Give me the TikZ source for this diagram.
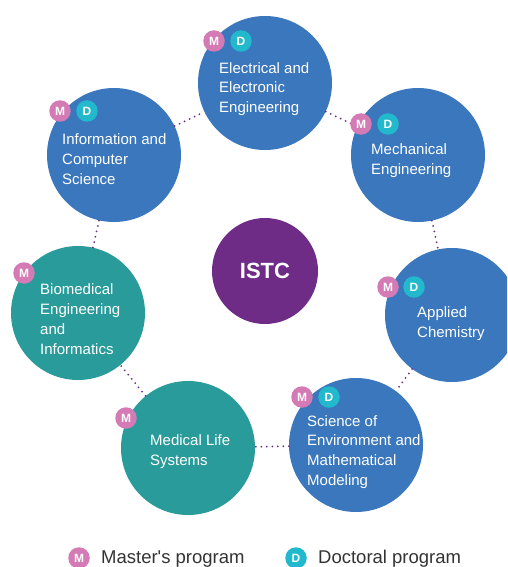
\documentclass[tikz,border=0pt]{standalone}
\usepackage{fontspec}
\setmainfont{Liberation Sans}[Ligatures=TeXOff]
\definecolor{cblue}{HTML}{3A77BC}
\definecolor{cteal}{HTML}{2A9B9B}
\definecolor{cpurple}{HTML}{6F2C87}
\definecolor{cpink}{HTML}{D47AB4}
\definecolor{ccyan}{HTML}{22B9CC}
\definecolor{ctext}{HTML}{333333}
\tikzset{
  big/.style={circle, minimum size=134pt, inner sep=0pt, fill=#1},
  hub/.style={circle, minimum size=106pt, inner sep=0pt, fill=cpurple, text=white, font=\fontsize{22}{26}\selectfont\bfseries},
  lbl/.style={anchor=west, align=left, text=white, inner sep=0pt, font=\fontsize{15}{19.8}\selectfont},
  badge/.style={circle, minimum size=21.5pt, inner sep=0pt, fill=#1, text=white, font=\fontsize{12}{13}\selectfont\bfseries},
  link/.style={draw=cpurple, line width=2pt, dash pattern=on 0pt off 5.5pt, line cap=round},
  legend/.style={anchor=west, inner sep=0pt, text=ctext, font=\fontsize{18.5}{22}\selectfont}
}
\begin{document}
\begin{tikzpicture}[x=1pt,y=-1pt]
\useasboundingbox (0,0) rectangle (507,567);
\clip (0,0) rectangle (507,567);
% circles
\node[big=cblue] (E) at (265,83) {};
\node[big=cblue] (Me) at (418,155) {};
\node[big=cblue] (A) at (452,315) {};
\node[big=cblue] (S) at (356,445) {};
\node[big=cteal] (ML) at (188,448) {};
\node[big=cteal] (B) at (78,313) {};
\node[big=cblue] (I) at (114,155) {};
\node[hub] (C) at (265,271) {ISTC};
% connectors
\draw[link] (E) -- (Me);
\draw[link] (Me) -- (A);
\draw[link] (A) -- (S);
\draw[link] (S) -- (ML);
\draw[link] (ML) -- (B);
\draw[link] (B) -- (I);
\draw[link] (I) -- (E);
% labels
\node[lbl] (tE) at (219,89) {Electrical and\\Electronic\\Engineering};
\node[lbl] (tMe) at (371,161) {Mechanical\\Engineering};
\node[lbl] (tA) at (417,324) {Applied\\Chemistry};
\node[lbl] (tS) at (307,452) {Science of\\Environment and\\Mathematical\\Modeling};
\node[lbl] (tML) at (150,452) {Medical Life\\Systems};
\node[lbl] (tB) at (40,319) {Biomedical\\Engineering\\and\\Informatics};
\node[lbl] (tI) at (62,159) {Information and\\Computer\\Science};
% badges
\node[badge=cpink] (mE) at (214,41) {M};
\node[badge=ccyan] (dE) at (241,41) {D};
\node[badge=cpink] (mI) at (60,111) {M};
\node[badge=ccyan] (dI) at (87,111) {D};
\node[badge=cpink] (mMe) at (361,124) {M};
\node[badge=ccyan] (dMe) at (388,124) {D};
\node[badge=cpink] (mA) at (388,287) {M};
\node[badge=ccyan] (dA) at (414,287) {D};
\node[badge=cpink] (mS) at (302,397) {M};
\node[badge=ccyan] (dS) at (329,397) {D};
\node[badge=cpink] (mML) at (126,418) {M};
\node[badge=cpink] (mB) at (24,273) {M};
% legend
\node[badge=cpink] (lm) at (79,558) {M};
\node[legend] (lmt) at (101,559) {Master's program};
\node[badge=ccyan] (ld) at (296,558) {D};
\node[legend] (ldt) at (318,559) {Doctoral program};
\end{tikzpicture}
\end{document}
